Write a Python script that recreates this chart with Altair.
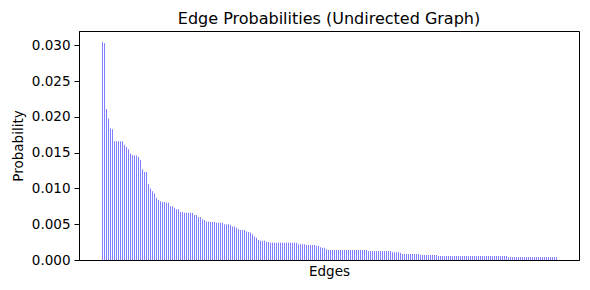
import altair as alt
import pandas as pd

chart_title = "Edge Probabilities (Undirected Graph)"
x_title = "Edges"
y_title = "Probability"

# Edge probabilities, sorted descending
probs_a = [0.0305, 0.0303, 0.0211, 0.0198, 0.0184, 0.0183, 0.0166, 0.0166, 0.0166, 0.0166,
           0.0166, 0.0161, 0.0158, 0.0155, 0.0149, 0.0147, 0.0146, 0.0146, 0.0144, 0.0140,
           0.0127, 0.0123, 0.0123, 0.0106, 0.0100, 0.0096, 0.0093, 0.0087, 0.0084, 0.0082,
           0.0081, 0.0081]
probs_b = [0.0080, 0.0080, 0.0075, 0.0075, 0.0073, 0.0071, 0.0071, 0.0067, 0.0067, 0.0066,
           0.0066, 0.0066, 0.0066, 0.0066, 0.0063, 0.0063, 0.0060, 0.0060, 0.0057, 0.0056,
           0.0054, 0.0054, 0.0053, 0.0053, 0.0053, 0.0052, 0.0052, 0.0052, 0.0052, 0.0050,
           0.0050]
probs_c = [0.0050, 0.0049, 0.0047, 0.0047, 0.0045, 0.0043, 0.0042, 0.0042, 0.0042, 0.0040,
           0.0039, 0.0038, 0.0036, 0.0033, 0.0031, 0.0028, 0.0027, 0.0027, 0.0027, 0.0025,
           0.0025, 0.0024, 0.0024, 0.0024, 0.0024, 0.0024, 0.0024, 0.0024, 0.0024, 0.0024,
           0.0024, 0.0024, 0.0024]
probs_d = [0.0024, 0.0024, 0.0022, 0.0022, 0.0022, 0.0022, 0.0021, 0.0021, 0.0021, 0.0021,
           0.0021, 0.0020, 0.0020, 0.0018, 0.0017, 0.0017, 0.0015, 0.0014, 0.0014, 0.0014,
           0.0014, 0.0014, 0.0014, 0.0014, 0.0014, 0.0014, 0.0014, 0.0014, 0.0014, 0.0014,
           0.0014, 0.0014, 0.0014]
probs_e = [0.0014, 0.0014, 0.0014, 0.0014, 0.00126, 0.00126, 0.00126, 0.00126, 0.00126, 0.00126,
           0.00126, 0.00126, 0.00126, 0.00126, 0.00126, 0.00126, 0.0011, 0.0011, 0.0011, 0.0011,
           0.0010, 0.00084, 0.00084, 0.00084, 0.00084, 0.00084, 0.00084, 0.00084, 0.00084, 0.00084,
           0.0007, 0.0007, 0.0007]
probs_f = [0.0007, 0.0007, 0.0007, 0.0007, 0.0007, 0.0007, 0.00056, 0.00056, 0.00056, 0.00056,
           0.00056, 0.00056, 0.00056, 0.00056, 0.00056, 0.00056, 0.00056, 0.00056, 0.00056, 0.00056,
           0.00056, 0.00056, 0.00056, 0.00056, 0.00056, 0.00056, 0.00056, 0.00056, 0.00056, 0.00056,
           0.00056, 0.00056, 0.00056]
probs_g = [0.00056, 0.00056, 0.00056, 0.00056, 0.00056, 0.00056, 0.00056, 0.00056, 0.00042, 0.00042,
           0.00042, 0.00042, 0.00042, 0.00042, 0.00042, 0.00042, 0.00042, 0.00042, 0.00042, 0.00042,
           0.00042, 0.00042, 0.00042, 0.00042, 0.00042, 0.00042, 0.00042, 0.00042, 0.00042, 0.00042,
           0.00042, 0.00042, 0.00042]

probabilities = probs_a + probs_b + probs_c + probs_d + probs_e + probs_f + probs_g
edges = list(range(len(probabilities)))
y_ticks = [0.0, 0.005, 0.010, 0.015, 0.020, 0.025, 0.030]

bar_width = 0.5
n = len(probabilities)
# x range of 250 units over 500 px (2 px per edge), with ~5% margins each side
x_domain = [-11.75, 238.25]
y_domain = [0, max(probabilities) * 1.05]

df = pd.DataFrame({"edge": edges, "probability": probabilities})

FONT = "DejaVu Sans"

chart = (
    alt.Chart(df)
    .transform_calculate(x0="datum.edge - 0.25", x1="datum.edge + 0.25")
    .mark_bar(color="blue", opacity=0.5)
    .encode(
        x=alt.X(
            "x0:Q",
            scale=alt.Scale(domain=x_domain, nice=False, zero=False),
            axis=alt.Axis(title=x_title, labels=False, ticks=False, grid=False,
                          domainColor="black", titlePadding=4),
        ),
        x2="x1:Q",
        y=alt.Y(
            "probability:Q",
            scale=alt.Scale(domain=y_domain, nice=False),
            axis=alt.Axis(title=y_title, values=y_ticks, format=".3f", grid=False,
                          domainColor="black", tickColor="black", tickSize=5,
                          labelPadding=4, titlePadding=6),
        ),
        y2=alt.datum(0),
        tooltip=["edge:Q", "probability:Q"],
    )
    .properties(
        width=500,
        height=229,
        title=alt.TitleParams(chart_title, fontSize=16, fontWeight="normal", font=FONT,
                              color="black", offset=4),
        autosize=alt.AutoSizeParams(type="none"),
        padding={"left": 71, "top": 23, "right": 3, "bottom": 20},
    )
    .configure_view(stroke="black", strokeWidth=1)
    .configure_axis(labelFont=FONT, titleFont=FONT, labelFontSize=13.5, titleFontSize=13.5,
                    titleFontWeight="normal", labelColor="black", titleColor="black")
)

chart.save("out.html", embed_options={"renderer": "svg", "actions": False})
